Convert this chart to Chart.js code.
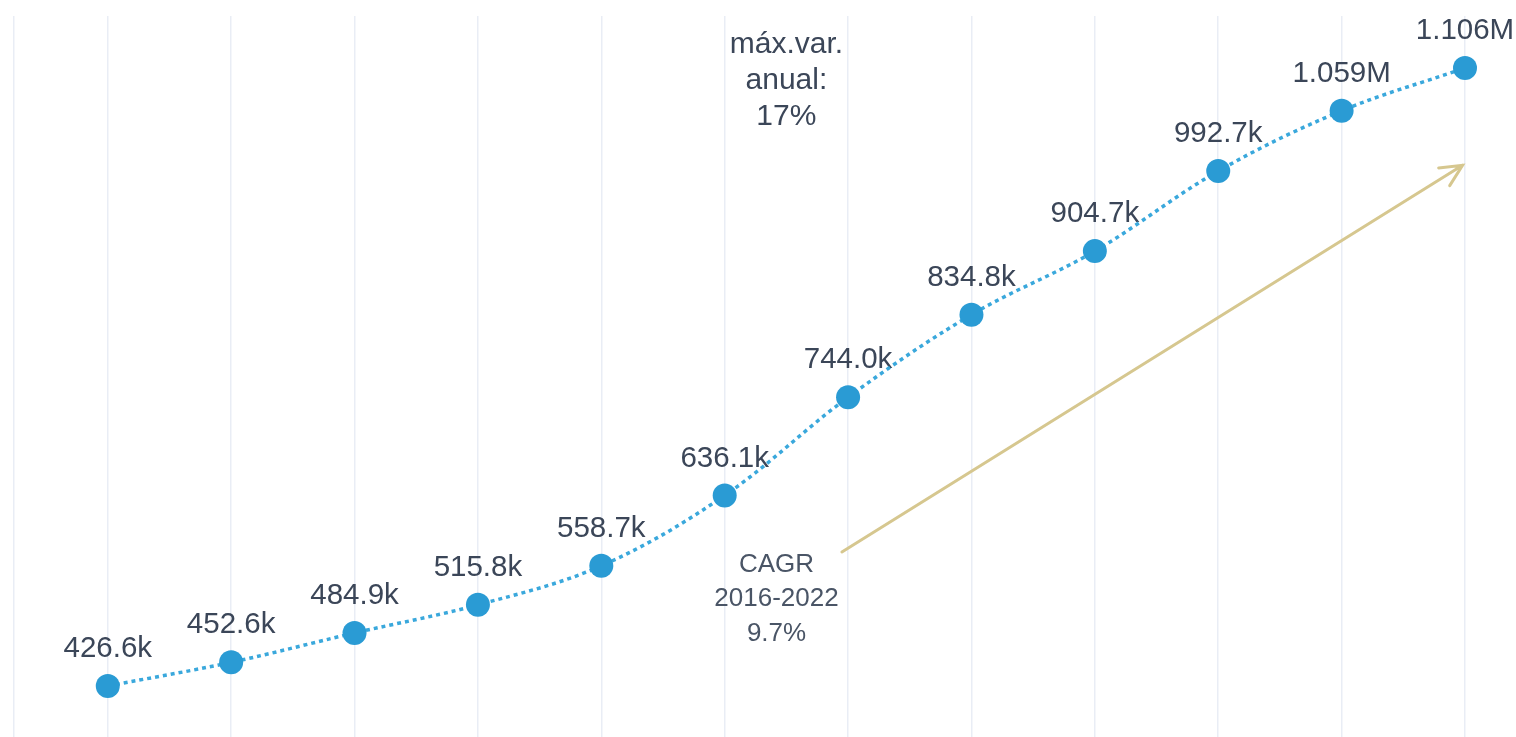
<!DOCTYPE html>
<html>
<head>
<meta charset="utf-8">
<script src="https://cdn.jsdelivr.net/npm/chart.js@4"></script>
<style>
  html, body { margin: 0; padding: 0; background: #fff; overflow: hidden; }
  canvas { display: block; }
</style>
</head>
<body>
<canvas id="cagrChart" width="1516" height="737"></canvas>
<script>
// data
const years = [2011, 2012, 2013, 2014, 2015, 2016, 2017, 2018, 2019, 2020, 2021, 2022];
const values = [426600, 452600, 484900, 515800, 558700, 636100, 744000, 834800, 904700, 992700, 1059000, 1106000];
const valueLabels = ['426.6k', '452.6k', '484.9k', '515.8k', '558.7k', '636.1k', '744.0k', '834.8k', '904.7k', '992.7k', '1.059M', '1.106M'];

// annotations (in data coordinates)
const maxVarText = ['máx.var.', 'anual:', '17%'];
const maxVarAt = [2016.5, 1132000];
const cagrText = ['CAGR', '2016-2022', '9.7%'];
const cagrTextAt = [2016.42, 560000];
const arrowFrom = [2016.95, 574000];
const arrowTo = [2021.98, 999000];

const labelColor = '#3b4658';

const labelsPlugin = {
    id: 'valueLabels',
    beforeDatasetsDraw(chart) {
        const ctx = chart.ctx;
        const meta = chart.getDatasetMeta(0);
        ctx.save();
        ctx.font = '29.5px "Liberation Sans", Arial, sans-serif';
        ctx.fillStyle = labelColor;
        ctx.textAlign = 'center';
        ctx.textBaseline = 'middle';
        meta.data.forEach(function (pt, i) {
            ctx.fillText(valueLabels[i], pt.x, pt.y - 37);
        });
        ctx.restore();
    },
    afterDatasetsDraw(chart) {
        const ctx = chart.ctx;
        const xs = chart.scales.x, ys = chart.scales.y;
        ctx.save();
        ctx.textAlign = 'center';
        ctx.textBaseline = 'middle';

        // max annual variation note
        ctx.font = '30px "Liberation Sans", Arial, sans-serif';
        ctx.fillStyle = labelColor;
        let x = xs.getPixelForValue(maxVarAt[0]);
        let y = ys.getPixelForValue(maxVarAt[1]);
        maxVarText.forEach(function (t, i) { ctx.fillText(t, x, y + i * 36); });

        // CAGR note
        ctx.font = '26px "Liberation Sans", Arial, sans-serif';
        ctx.fillStyle = '#4a5566';
        x = xs.getPixelForValue(cagrTextAt[0]);
        y = ys.getPixelForValue(cagrTextAt[1]);
        cagrText.forEach(function (t, i) { ctx.fillText(t, x, y + i * 34.5); });

        // arrow
        const x1 = xs.getPixelForValue(arrowFrom[0]), y1 = ys.getPixelForValue(arrowFrom[1]);
        const x2 = xs.getPixelForValue(arrowTo[0]), y2 = ys.getPixelForValue(arrowTo[1]);
        ctx.strokeStyle = '#d6c78f';
        ctx.lineWidth = 3;
        ctx.lineCap = 'round';
        ctx.beginPath();
        ctx.moveTo(x1, y1);
        ctx.lineTo(x2, y2);
        const ang = Math.atan2(y2 - y1, x2 - x1);
        const len = 24;
        ctx.moveTo(x2 - len * Math.cos(ang - 0.45), y2 - len * Math.sin(ang - 0.45));
        ctx.lineTo(x2, y2);
        ctx.lineTo(x2 - len * Math.cos(ang + 0.45), y2 - len * Math.sin(ang + 0.45));
        ctx.stroke();
        ctx.restore();
    }
};

const ctx = document.getElementById('cagrChart').getContext('2d');
new Chart(ctx, {
    type: 'line',
    data: {
        labels: years,
        datasets: [{
            data: years.map(function (yr, i) { return { x: yr, y: values[i] }; }),
            borderColor: '#3aa8dc',
            borderWidth: 3.5,
            borderDash: [4, 4],
            tension: 0.35,
            pointRadius: 12,
            pointHoverRadius: 12,
            pointBackgroundColor: '#2a9bd4',
            pointBorderWidth: 0,
            clip: false,
            fill: false
        }]
    },
    options: {
        responsive: false,
        animation: false,
        layout: { autoPadding: false, padding: { left: 14, right: 51, top: 16, bottom: 0 } },
        plugins: {
            legend: { display: false },
            tooltip: { enabled: false }
        },
        scales: {
            x: {
                type: 'linear',
                min: 2010.24,
                max: 2022,
                afterFit: function (scale) { scale.height = 0; },
                ticks: { display: false, stepSize: 1 },
                grid: { color: '#e9edf5', lineWidth: 1.5, drawTicks: false },
                border: { display: false }
            },
            y: {
                display: false,
                min: 370500,
                max: 1163200
            }
        }
    },
    plugins: [labelsPlugin]
});
</script>
</body>
</html>
